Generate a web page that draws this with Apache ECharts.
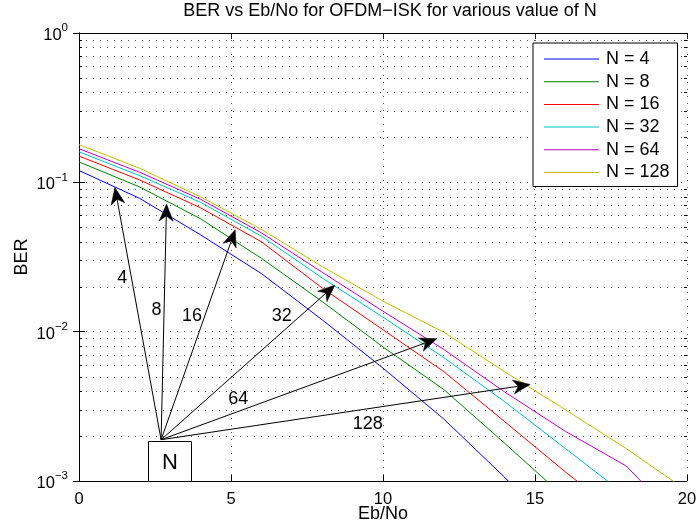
<!DOCTYPE html>
<html>
<head>
<meta charset="utf-8">
<script src="https://cdn.jsdelivr.net/npm/echarts@6/dist/echarts.min.js"></script>
<style>
  html, body { margin: 0; padding: 0; background: #fff; }
  #chart { width: 698px; height: 531px; }
</style>
</head>
<body>
<div id="chart"></div>
<script>
// Eb/No sample points (dB)
const ebNo = [0, 2, 4, 6, 8, 10, 12, 14, 16, 18, 20];

// Simulated BER for each number of subcarriers N
const berN4   = [0.120, 0.078, 0.0445, 0.0245, 0.0120, 0.0057, 0.0026, 0.00106, 0.0004, 0.00015, 0.00006];
const berN8   = [0.137, 0.093, 0.057, 0.031, 0.0159, 0.0079, 0.0041, 0.00179, 0.00077, 0.0003, 0.0001];
const berN16  = [0.150, 0.1036, 0.0675, 0.040, 0.0196, 0.0103, 0.0054, 0.0025, 0.00115, 0.00055, 0.0002];
const berN32  = [0.160, 0.1107, 0.0735, 0.0436, 0.0229, 0.0125, 0.0067, 0.0034, 0.00165, 0.0008, 0.0003];
const berN64  = [0.168, 0.1167, 0.077, 0.0459, 0.025, 0.0137, 0.0076, 0.00395, 0.00215, 0.00126, 0.00048];
const berN128 = [0.179, 0.124, 0.080, 0.0484, 0.0273, 0.016, 0.0099, 0.0054, 0.0030, 0.00165, 0.00086];

const seriesNames = ['N = 4', 'N = 8', 'N = 16', 'N = 32', 'N = 64', 'N = 128'];
const seriesData = [berN4, berN8, berN16, berN32, berN64, berN128];

// Axis ranges and ticks
const xTicks = [0, 5, 10, 15, 20];
const yDecades = [0.001, 0.01, 0.1, 1];

// Annotation: arrows from the "N" box to each curve, in (Eb/No, BER) units
const arrowFrom = [2.70, 0.00189];
const arrowTips = [[1.18, 0.0925], [2.88, 0.0715], [5.14, 0.0482], [8.42, 0.0205], [11.77, 0.00897], [14.84, 0.00443]];
const arrowLabels = ['4', '8', '16', '32', '64', '128'];
const arrowLabelAt = [[1.42, 0.0227], [2.55, 0.01405], [3.72, 0.0128], [6.67, 0.01267], [5.24, 0.00355], [9.5, 0.00241]];
const nBoxCorners = [2.28, 0.00186, 3.67, 0.001];
const nBoxText = 'N';

const FONT = '"Liberation Sans", Arial, Helvetica, sans-serif';
const colors = ['#0000ff', '#008000', '#ff0000', '#00bfbf', '#bf00bf', '#bfbf00'];
const gridDotColor = '#555';
const dotDash = [1, 6];

const xMin = xTicks[0], xMax = xTicks[xTicks.length - 1];
const yMin = yDecades[0], yMax = yDecades[yDecades.length - 1];

// minor log ticks 2..9 within each decade
const minorTicks = [];
yDecades.slice(0, -1).forEach(d => { for (let k = 2; k <= 9; k++) minorTicks.push(+(k * d).toPrecision(3)); });

const crisp = v => Math.round(v) + 0.5;

function supLabel(v) {
  const e = Math.round(Math.log10(v));
  return '{b|10}{e|' + (e < 0 ? '\u2212' + (-e) : String(e)) + '}';
}

const lineSeries = seriesNames.map((name, i) => ({
  name,
  type: 'line',
  data: ebNo.map((x, j) => [x, seriesData[i][j]]),
  symbol: 'none',
  showSymbol: false,
  clip: true,
  z: 3,
  color: colors[i],
  lineStyle: { width: 1, color: colors[i] },
  emphasis: { disabled: true }
}));

const minorSeries = {
  type: 'custom',
  silent: true,
  z: 1,
  clip: false,
  data: minorTicks.map(v => [xMin, v]),
  encode: { x: 0, y: 1 },
  renderItem(params, api) {
    const v = api.value(1);
    const a = api.coord([xMin, v]);
    const b = api.coord([xMax, v]);
    const y = crisp(a[1]);
    return {
      type: 'group',
      children: [
        { type: 'line', shape: { x1: a[0], y1: y, x2: b[0], y2: y }, style: { stroke: gridDotColor, lineWidth: 1, lineDash: dotDash } },
        { type: 'line', shape: { x1: a[0], y1: y, x2: a[0] + 3, y2: y }, style: { stroke: '#000', lineWidth: 1 } },
        { type: 'line', shape: { x1: b[0] - 3, y1: y, x2: b[0], y2: y }, style: { stroke: '#000', lineWidth: 1 } }
      ]
    };
  }
};

const arrowSeries = {
  type: 'custom',
  silent: true,
  z: 5,
  clip: false,
  data: arrowTips,
  encode: { x: 0, y: 1 },
  renderItem(params, api) {
    const s = api.coord(arrowFrom);
    const t = api.coord([api.value(0), api.value(1)]);
    const dx = t[0] - s[0], dy = t[1] - s[1];
    const len = Math.sqrt(dx * dx + dy * dy);
    const ux = dx / len, uy = dy / len;
    const nx = -uy, ny = ux;
    const L = 17, W = 7, notch = 12;
    const back = [t[0] - ux * notch, t[1] - uy * notch];
    return {
      type: 'group',
      children: [
        { type: 'line', shape: { x1: s[0], y1: s[1], x2: back[0], y2: back[1] }, style: { stroke: '#000', lineWidth: 1 } },
        { type: 'polygon', shape: { points: [
            t,
            [t[0] - ux * L + nx * W, t[1] - uy * L + ny * W],
            back,
            [t[0] - ux * L - nx * W, t[1] - uy * L - ny * W]
          ] }, style: { fill: '#000', stroke: '#000', lineWidth: 0.5 } }
      ]
    };
  }
};

const arrowLabelSeries = {
  type: 'custom',
  silent: true,
  z: 6,
  clip: false,
  data: arrowLabelAt,
  encode: { x: 0, y: 1 },
  renderItem(params, api) {
    const p = api.coord([api.value(0), api.value(1)]);
    return {
      type: 'text',
      style: { text: arrowLabels[params.dataIndex], x: p[0], y: p[1], fill: '#000', fontSize: 18, fontFamily: FONT, align: 'center', verticalAlign: 'middle' }
    };
  }
};

const boxSeries = {
  type: 'custom',
  silent: true,
  z: 7,
  clip: false,
  data: [nBoxCorners],
  encode: { x: [0, 2], y: [1, 3] },
  renderItem(params, api) {
    const a = api.coord([api.value(0), api.value(1)]);
    const b = api.coord([api.value(2), api.value(3)]);
    const x0 = crisp(Math.min(a[0], b[0])), x1 = crisp(Math.max(a[0], b[0]));
    const y0 = crisp(Math.min(a[1], b[1])), y1 = crisp(Math.max(a[1], b[1]));
    return {
      type: 'group',
      children: [
        { type: 'rect', shape: { x: x0, y: y0, width: x1 - x0, height: y1 - y0 }, style: { fill: '#fff', stroke: '#000', lineWidth: 1 } },
        { type: 'text', style: { text: nBoxText, x: (x0 + x1) / 2, y: (y0 + y1) / 2 + 1, fill: '#000', fontSize: 22, fontFamily: FONT, align: 'center', verticalAlign: 'middle' } }
      ]
    };
  }
};

const chart = echarts.init(document.getElementById('chart'), null, { renderer: 'canvas' });

chart.setOption({
  animation: false,
  backgroundColor: '#fff',
  textStyle: { fontFamily: FONT },
  title: {
    text: 'BER vs Eb/No for OFDM\u2212ISK for various value of N',
    left: 385,
    top: -3,
    textAlign: 'center',
    textStyle: { fontSize: 18, fontWeight: 'normal', color: '#000', fontFamily: FONT }
  },
  grid: { left: 79, right: 11, top: 33, bottom: 50, containLabel: false, outerBoundsMode: 'none' },
  legend: {
    data: seriesNames,
    orient: 'vertical',
    left: 533,
    top: 43,
    padding: [7, 8, 5, 11],
    itemGap: 4.7,
    itemWidth: 55,
    itemHeight: 1,
    icon: 'rect',
    selectedMode: false,
    backgroundColor: '#fff',
    borderColor: '#000',
    borderWidth: 1,
    borderRadius: 0,
    textStyle: { fontSize: 18, color: '#000', fontFamily: FONT, padding: [0, 0, 0, 2] }
  },
  xAxis: [
    {
      type: 'value',
      min: xMin, max: xMax, interval: 5,
      name: 'Eb/No',
      nameLocation: 'middle',
      nameGap: 24,
      nameMoveOverlap: false,
      nameTextStyle: { fontSize: 18, color: '#000', fontFamily: FONT },
      axisLine: { lineStyle: { color: '#000', width: 1 } },
      axisTick: { inside: true, length: 6, lineStyle: { color: '#000' } },
      axisLabel: { fontSize: 16.5, color: '#000', margin: 10, fontFamily: FONT },
      splitLine: { show: true, lineStyle: { color: gridDotColor, type: dotDash, width: 1 } }
    },
    {
      type: 'value',
      position: 'top',
      min: xMin, max: xMax, interval: 5,
      axisLine: { lineStyle: { color: '#000', width: 1 } },
      axisTick: { inside: true, length: 6, lineStyle: { color: '#000' } },
      axisLabel: { show: false },
      splitLine: { show: false }
    }
  ],
  yAxis: [
    {
      type: 'log',
      logBase: 10,
      min: yMin, max: yMax,
      name: 'BER',
      nameLocation: 'middle',
      nameGap: 48,
      nameMoveOverlap: false,
      nameTextStyle: { fontSize: 18, color: '#000', fontFamily: FONT },
      axisLine: { lineStyle: { color: '#000', width: 1 } },
      axisTick: { inside: true, length: 6, lineStyle: { color: '#000' } },
      axisLabel: {
        margin: 11,
        formatter: supLabel,
        rich: {
          b: { fontSize: 16.5, color: '#000', fontFamily: FONT, verticalAlign: 'bottom' },
          e: { fontSize: 11.5, color: '#000', fontFamily: FONT, verticalAlign: 'bottom', padding: [0, 0, 10, 0] }
        }
      },
      splitLine: { show: true, lineStyle: { color: gridDotColor, type: dotDash, width: 1 } }
    },
    {
      type: 'log',
      logBase: 10,
      position: 'right',
      min: yMin, max: yMax,
      axisLine: { lineStyle: { color: '#000', width: 1 } },
      axisTick: { inside: true, length: 6, lineStyle: { color: '#000' } },
      axisLabel: { show: false },
      splitLine: { show: false }
    }
  ],
  series: [minorSeries].concat(lineSeries, [arrowSeries, arrowLabelSeries, boxSeries])
});
</script>
</body>
</html>
